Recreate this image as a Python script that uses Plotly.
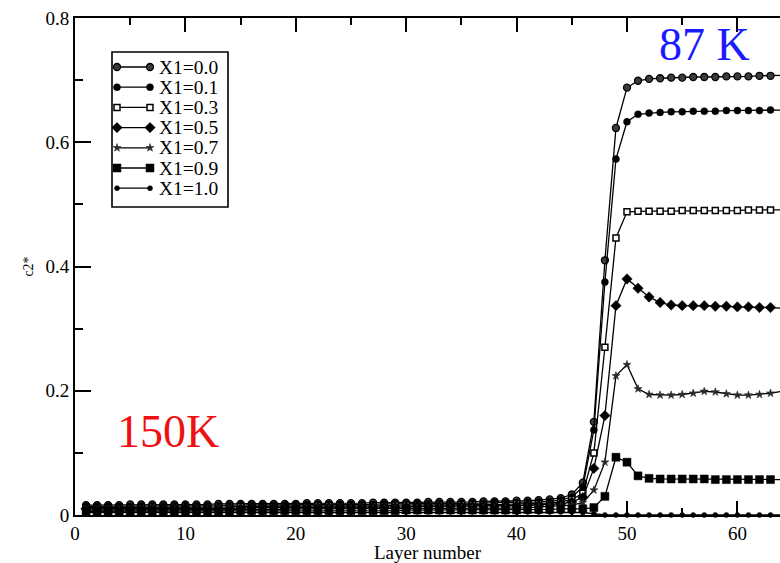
import plotly.graph_objects as go

# Layer index along the slab
layers = list(range(1, 66))

# Composition labels
labels = ["X1=0.0", "X1=0.1", "X1=0.3", "X1=0.5", "X1=0.7", "X1=0.9", "X1=1.0"]

# c2* profiles per composition (layers 1..65)
c2_x00 = [0.016, 0.016, 0.016, 0.016, 0.017, 0.017, 0.017, 0.017, 0.017, 0.017,
          0.017, 0.017, 0.018, 0.018, 0.018, 0.018, 0.018, 0.018, 0.018, 0.018,
          0.019, 0.019, 0.019, 0.019, 0.019, 0.019, 0.020, 0.020, 0.020, 0.020,
          0.020, 0.021, 0.021, 0.021, 0.021, 0.021, 0.022, 0.022, 0.022, 0.023,
          0.023, 0.024, 0.025, 0.027, 0.033,
          0.052, 0.150, 0.410, 0.623, 0.688,
          0.699, 0.702, 0.703, 0.704, 0.704, 0.705, 0.705, 0.705, 0.706, 0.706,
          0.706, 0.707, 0.707, 0.708, 0.708]

c2_x01 = [0.014, 0.014, 0.014, 0.014, 0.014, 0.015, 0.015, 0.015, 0.015, 0.015,
          0.015, 0.015, 0.015, 0.016, 0.016, 0.016, 0.016, 0.016, 0.016, 0.016,
          0.017, 0.017, 0.017, 0.017, 0.017, 0.017, 0.017, 0.018, 0.018, 0.018,
          0.018, 0.018, 0.019, 0.019, 0.019, 0.019, 0.019, 0.020, 0.020, 0.020,
          0.021, 0.021, 0.022, 0.024, 0.029,
          0.045, 0.137, 0.375, 0.573, 0.633,
          0.645, 0.647, 0.648, 0.649, 0.649, 0.650, 0.650, 0.650, 0.651, 0.651,
          0.651, 0.651, 0.652, 0.652, 0.652]

c2_x03 = [0.012, 0.012, 0.012, 0.012, 0.012, 0.012, 0.013, 0.013, 0.013, 0.013,
          0.013, 0.013, 0.013, 0.013, 0.014, 0.014, 0.014, 0.014, 0.014, 0.014,
          0.014, 0.015, 0.015, 0.015, 0.015, 0.015, 0.015, 0.015, 0.016, 0.016,
          0.016, 0.016, 0.016, 0.016, 0.017, 0.017, 0.017, 0.017, 0.017, 0.018,
          0.018, 0.019, 0.019, 0.021, 0.025,
          0.035, 0.100, 0.270, 0.446, 0.488,
          0.489, 0.489, 0.489, 0.489, 0.490, 0.490, 0.490, 0.490, 0.490, 0.490,
          0.491, 0.491, 0.491, 0.491, 0.491]

c2_x05 = [0.010, 0.010, 0.010, 0.010, 0.010, 0.010, 0.010, 0.011, 0.011, 0.011,
          0.011, 0.011, 0.011, 0.011, 0.011, 0.012, 0.012, 0.012, 0.012, 0.012,
          0.012, 0.012, 0.012, 0.013, 0.013, 0.013, 0.013, 0.013, 0.013, 0.013,
          0.014, 0.014, 0.014, 0.014, 0.014, 0.014, 0.015, 0.015, 0.015, 0.015,
          0.016, 0.016, 0.017, 0.018, 0.021,
          0.028, 0.075, 0.160, 0.337, 0.380,
          0.365, 0.351, 0.342, 0.338, 0.337, 0.337, 0.337, 0.336, 0.336, 0.335,
          0.335, 0.334, 0.334, 0.333, 0.333]

c2_x07 = [0.008, 0.008, 0.008, 0.008, 0.008, 0.008, 0.008, 0.008, 0.009, 0.009,
          0.009, 0.009, 0.009, 0.009, 0.009, 0.009, 0.009, 0.009, 0.009, 0.010,
          0.010, 0.010, 0.010, 0.010, 0.010, 0.010, 0.010, 0.010, 0.010, 0.010,
          0.011, 0.011, 0.011, 0.011, 0.011, 0.011, 0.011, 0.011, 0.011, 0.011,
          0.012, 0.013, 0.013, 0.014, 0.016,
          0.020, 0.040, 0.085, 0.224, 0.242,
          0.203, 0.194, 0.193, 0.193, 0.194, 0.196, 0.199, 0.198, 0.195, 0.193,
          0.193, 0.194, 0.196, 0.199, 0.199]

c2_x09 = [0.006, 0.006, 0.006, 0.006, 0.006, 0.006, 0.006, 0.006, 0.006, 0.006,
          0.006, 0.006, 0.006, 0.006, 0.007, 0.007, 0.007, 0.007, 0.007, 0.007,
          0.007, 0.007, 0.007, 0.007, 0.007, 0.007, 0.007, 0.007, 0.007, 0.008,
          0.008, 0.008, 0.008, 0.008, 0.008, 0.008, 0.008, 0.008, 0.008, 0.008,
          0.009, 0.009, 0.009, 0.010, 0.010,
          0.010, 0.012, 0.030, 0.093, 0.085,
          0.063, 0.059, 0.058, 0.058, 0.058, 0.058, 0.058, 0.057, 0.057, 0.057,
          0.057, 0.057, 0.057, 0.057, 0.057]

c2_x10 = [0.004, 0.004, 0.004, 0.004, 0.004, 0.004, 0.004, 0.004, 0.004, 0.004,
          0.004, 0.004, 0.004, 0.004, 0.004, 0.004, 0.004, 0.004, 0.004, 0.004,
          0.004, 0.004, 0.004, 0.004, 0.005, 0.005, 0.005, 0.005, 0.005, 0.005,
          0.005, 0.005, 0.005, 0.005, 0.005, 0.005, 0.005, 0.005, 0.005, 0.005,
          0.005, 0.005, 0.005, 0.005, 0.005,
          0.004, 0.002, 0.000, 0.000, 0.000,
          0.000, 0.000, 0.000, 0.000, 0.000, 0.000, 0.000, 0.000, 0.000, 0.000,
          0.000, 0.000, 0.000, 0.000, 0.000]

series = [c2_x00, c2_x01, c2_x03, c2_x05, c2_x07, c2_x09, c2_x10]

# Marker look for each composition
marker_styles = [
    dict(symbol="circle", size=7, color="#3c3c3c", line=dict(color="black", width=1.3)),
    dict(symbol="circle", size=7, color="black", line=dict(color="black", width=0.5)),
    dict(symbol="square", size=6, color="white", line=dict(color="black", width=1.5)),
    dict(symbol="diamond", size=8, color="black", line=dict(color="black", width=0.5)),
    dict(symbol="star", size=6, color="#2a2a2a", line=dict(color="#2a2a2a", width=0.6)),
    dict(symbol="square", size=8, color="black", line=dict(color="black", width=0.5)),
    dict(symbol="circle", size=5, color="black", line=dict(color="black", width=0.5)),
]

SERIF = "Liberation Serif, Times New Roman, serif"
INK = "#000000"
LINE = dict(color="black", width=1.3)

fig = go.Figure()
for name, vals, mk in zip(labels, series, marker_styles):
    fig.add_trace(go.Scatter(
        x=layers, y=vals, name=name, mode="lines+markers",
        line=LINE, marker=mk, cliponaxis=False, showlegend=False,
    ))

# Boxed key in the upper left: a pixel-unit overlay axis pair holds the
# sample glyphs (marker at both ends of a short line), text goes beside them.
KEY_LEFT, KEY_RIGHT, KEY_TOP, KEY_BOTTOM = 37, 153, 34, 189
ROW0, ROW_STEP = 49, 20.2
GLYPH_X0, GLYPH_X1, TEXT_X = 42, 75, 82
for i, (name, mk) in enumerate(zip(labels, marker_styles)):
    row_y = ROW0 + i * ROW_STEP
    fig.add_trace(go.Scatter(
        x=[GLYPH_X0, GLYPH_X1], y=[row_y, row_y], mode="lines+markers",
        line=LINE, marker=mk, xaxis="x2", yaxis="y2",
        showlegend=False, hoverinfo="skip", cliponaxis=False,
    ))
    fig.add_annotation(x=TEXT_X, y=row_y, xref="x2", yref="y2", text=name,
                       showarrow=False, xanchor="left", yanchor="middle",
                       font=dict(family=SERIF, size=19.5, color=INK))
fig.add_shape(type="rect", xref="x2", yref="y2",
              x0=KEY_LEFT, x1=KEY_RIGHT, y0=KEY_TOP, y1=KEY_BOTTOM,
              line=dict(color="black", width=1.6), fillcolor="white", layer="below")

fig.add_annotation(x=57.0, y=0.757, text="87 K", showarrow=False,
                   font=dict(family=SERIF, size=46, color="#1a1aff"))
fig.add_annotation(x=8.4, y=0.134, text="150K", showarrow=False,
                   font=dict(family=SERIF, size=46, color="#ee1111"))

fig.update_layout(
    width=780, height=563,
    margin=dict(l=75, r=0, t=18, b=48, pad=0),
    plot_bgcolor="white", paper_bgcolor="white",
    font=dict(family=SERIF, size=19, color=INK),
    showlegend=False,
    xaxis=dict(
        range=[0, 63.86], dtick=10, tick0=0, autorange=False,
        showline=True, linecolor="black", linewidth=2, mirror="allticks",
        ticks="inside", ticklen=14, tickwidth=1.5, tickcolor="black",
        minor=dict(dtick=5, ticks="inside", ticklen=7, tickwidth=1.5, tickcolor="black"),
        showgrid=False, zeroline=False,
        tickfont=dict(family=SERIF, size=19, color=INK),
        title=dict(text="Layer number", standoff=2,
                   font=dict(family=SERIF, size=19, color=INK)),
    ),
    yaxis=dict(
        range=[0, 0.8], dtick=0.2, tick0=0, autorange=False,
        showline=True, linecolor="black", linewidth=2, mirror=False,
        ticks="inside", ticklen=16, tickwidth=1.5, tickcolor="black",
        minor=dict(dtick=0.1, ticks="inside", ticklen=8, tickwidth=1.5, tickcolor="black"),
        showgrid=False, zeroline=False,
        tickfont=dict(family=SERIF, size=19, color=INK),
        title=dict(text="c2*", standoff=9,
                   font=dict(family=SERIF, size=14, color=INK)),
    ),
    xaxis2=dict(overlaying="x", range=[0, 705], autorange=False,
                visible=False, fixedrange=True),
    yaxis2=dict(overlaying="y", range=[497, 0], autorange=False,
                visible=False, fixedrange=True),
)

fig.write_html("out.html")
